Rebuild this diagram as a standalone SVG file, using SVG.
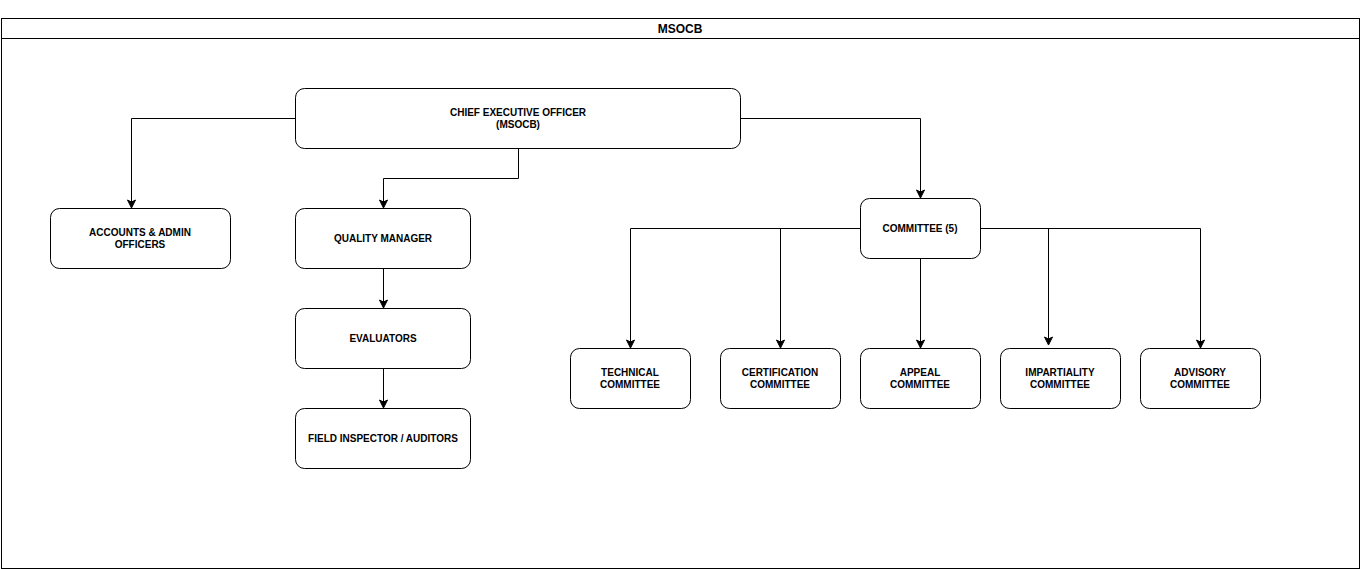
<svg xmlns="http://www.w3.org/2000/svg" width="1361" height="569" viewBox="0 0 1361 569">
<defs>
<marker id="arr" markerWidth="10" markerHeight="10" refX="8" refY="5" orient="auto" markerUnits="userSpaceOnUse">
<path d="M1,1 L9,5 L1,9 L3,5 Z" fill="#000" stroke="#000" stroke-width="1"/>
</marker>
</defs>
<style>
.box{fill:#fff;stroke:#000;stroke-width:1}
.t{font-family:"Liberation Sans",Arial,sans-serif;font-size:10px;font-weight:bold;fill:#000;text-anchor:middle}
.title{font-family:"Liberation Sans",Arial,sans-serif;font-size:12px;font-weight:bold;fill:#000;text-anchor:middle}
.c{fill:none;stroke:#000;stroke-width:1;marker-end:url(#arr)}
</style>
<rect width="1361" height="569" fill="#fff"/>
<g id="container">
<rect x="1.5" y="18.5" width="1358" height="550" fill="#fff" stroke="#000"/>
<line x1="1.5" y1="38.5" x2="1359.5" y2="38.5" stroke="#000"/>
<text class="title" x="680" y="32.5">MSOCB</text>
</g>
<g id="connectors">
<path class="c" d="M295,118.5 H131.5 V207"/>
<path class="c" d="M518.5,148 V178.5 H383.5 V207"/>
<path class="c" d="M740,118.5 H920.5 V197"/>
<path class="c" d="M860,228.5 H630.5 V347"/>
<path class="c" d="M780.5,228.5 V347"/>
<path class="c" d="M920.5,258 V347"/>
<path class="c" d="M980,228.5 H1200.5 V347"/>
<path class="c" d="M1048.5,228.5 V344"/>
<path class="c" d="M383.5,268 V307"/>
<path class="c" d="M383.5,368 V407"/>
</g>
<g id="ceo"><rect class="box" x="295.5" y="88.5" width="445" height="60" rx="9"/><text class="t" x="518" y="116">CHIEF EXECUTIVE OFFICER</text><text class="t" x="518" y="128">(MSOCB)</text></g>
<g id="accounts"><rect class="box" x="50.5" y="208.5" width="180" height="60" rx="9"/><text class="t" x="140" y="236">ACCOUNTS &amp; ADMIN</text><text class="t" x="140" y="248">OFFICERS</text></g>
<g id="qm"><rect class="box" x="295.5" y="208.5" width="175" height="60" rx="9"/><text class="t" x="383" y="242">QUALITY MANAGER</text></g>
<g id="evaluators"><rect class="box" x="295.5" y="308.5" width="175" height="60" rx="9"/><text class="t" x="383" y="342">EVALUATORS</text></g>
<g id="field"><rect class="box" x="295.5" y="408.5" width="175" height="60" rx="9"/><text class="t" x="383" y="442">FIELD INSPECTOR / AUDITORS</text></g>
<g id="committee"><rect class="box" x="860.5" y="198.5" width="120" height="60" rx="9"/><text class="t" x="920" y="232">COMMITTEE (5)</text></g>
<g id="technical"><rect class="box" x="570.5" y="348.5" width="120" height="60" rx="9"/><text class="t" x="630" y="376">TECHNICAL</text><text class="t" x="630" y="388">COMMITTEE</text></g>
<g id="certification"><rect class="box" x="720.5" y="348.5" width="120" height="60" rx="9"/><text class="t" x="780" y="376">CERTIFICATION</text><text class="t" x="780" y="388">COMMITTEE</text></g>
<g id="appeal"><rect class="box" x="860.5" y="348.5" width="120" height="60" rx="9"/><text class="t" x="920" y="376">APPEAL</text><text class="t" x="920" y="388">COMMITTEE</text></g>
<g id="impartiality"><rect class="box" x="1000.5" y="348.5" width="120" height="60" rx="9"/><text class="t" x="1060" y="376">IMPARTIALITY</text><text class="t" x="1060" y="388">COMMITTEE</text></g>
<g id="advisory"><rect class="box" x="1140.5" y="348.5" width="120" height="60" rx="9"/><text class="t" x="1200" y="376">ADVISORY</text><text class="t" x="1200" y="388">COMMITTEE</text></g>
</svg>
